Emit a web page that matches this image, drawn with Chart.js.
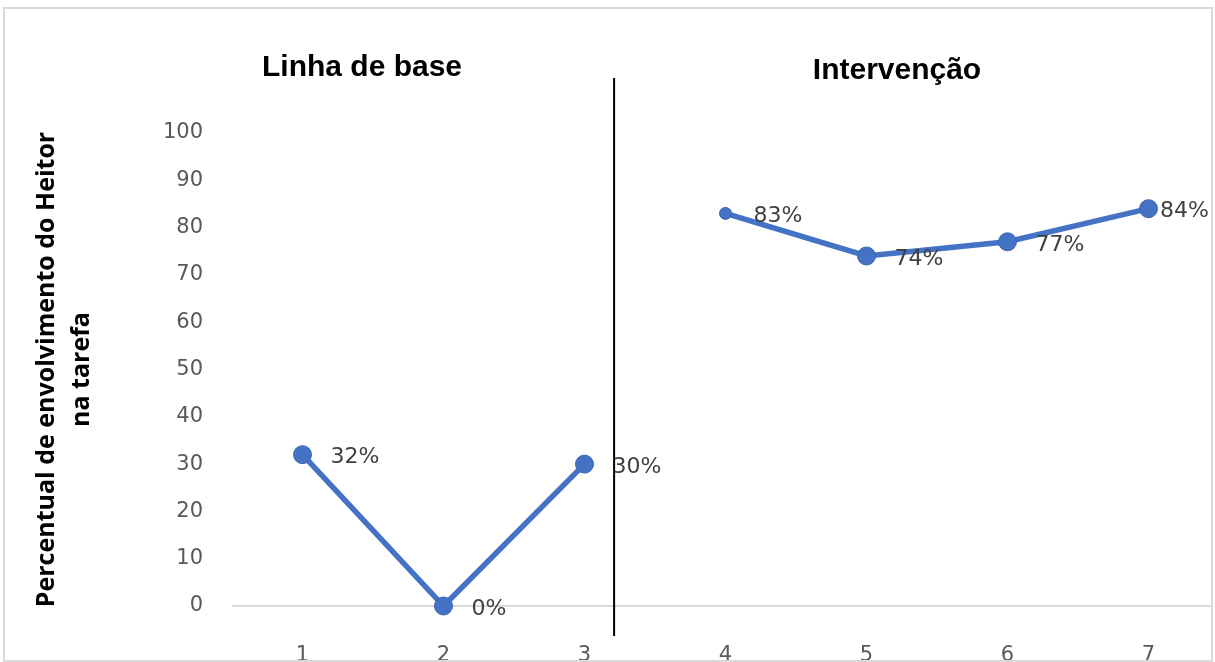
<!DOCTYPE html>
<html>
<head>
<meta charset="utf-8">
<script src="https://cdn.jsdelivr.net/npm/chart.js@4.4.1/dist/chart.umd.min.js"></script>
<style>
  html, body { margin: 0; padding: 0; background: #fff; }
  #wrap { position: relative; width: 1215px; height: 662px; overflow: hidden; background: #fff; }
  #clip { position: absolute; left: 0; top: 0; width: 1211px; height: 662px; overflow: hidden; }
  #line { position: absolute; left: 0; top: 0; }
  #frame { position: absolute; left: 3px; top: 7px; width: 1206px; height: 651px;
           border: 2px solid #d9d9d9; pointer-events: none; }
</style>
</head>
<body>
<div id="wrap">
  <div id="clip">
    <canvas id="line" width="1219" height="680" style="width:1219px;height:680px"></canvas>
  </div>
  <div id="frame"></div>
</div>
<script>
// sessões
const sessions = ["1", "2", "3", "4", "5", "6", "7"];
// percentual de envolvimento por fase
const baseline = [32, 0, 30, null, null, null, null];
const intervention = [null, null, null, 83, 74, 77, 84];
const yTicks = [0, 10, 20, 30, 40, 50, 60, 70, 80, 90, 100];
const phaseTitles = ["Linha de base", "Intervenção"];
const phaseChange = 2.21; // entre a sessão 3 e 4 (índice)

const blue = "#4472C4";

// rótulos de dados "32%" à direita de cada ponto
const labelPlugin = {
  id: "dataLabels",
  afterDatasetsDraw(chart) {
    const ctx = chart.ctx;
    ctx.save();
    ctx.font = "22px 'DejaVu Sans'";
    ctx.fillStyle = "#404040";
    ctx.textAlign = "left";
    ctx.textBaseline = "middle";
    chart.data.datasets.forEach((ds, i) => {
      chart.getDatasetMeta(i).data.forEach((pt, j) => {
        const v = ds.data[j];
        if (v === null) return;
        const txt = v + "%";
        let x = pt.x + 28;
        const w = ctx.measureText(txt).width;
        if (x + w > 1209) x = 1209 - w;
        ctx.fillText(txt, x, pt.y + 3);
      });
    });
    ctx.restore();
  }
};

// linha de mudança de fase e títulos das fases
const phasePlugin = {
  id: "phase",
  afterDraw(chart) {
    const ctx = chart.ctx;
    const xs = chart.scales.x;
    const area = chart.chartArea;
    const step = xs.getPixelForValue(1) - xs.getPixelForValue(0);
    const px = xs.getPixelForValue(2) + (phaseChange - 2) * step;
    ctx.save();
    ctx.strokeStyle = "#000";
    ctx.lineWidth = 2;
    ctx.beginPath();
    ctx.moveTo(px, area.top - 55);
    ctx.lineTo(px, area.bottom + 30);
    ctx.stroke();

    ctx.font = "bold 30px 'Liberation Sans'";
    ctx.fillStyle = "#000";
    ctx.textAlign = "center";
    ctx.textBaseline = "alphabetic";
    ctx.fillText(phaseTitles[0], 362, 76);
    ctx.fillText(phaseTitles[1], 897, 79);
    ctx.restore();
  }
};

new Chart(document.getElementById("line"), {
  type: "line",
  data: {
    labels: sessions,
    datasets: [
      {
        label: phaseTitles[0],
        data: baseline,
        borderColor: blue,
        backgroundColor: blue,
        borderWidth: 5.5,
        pointRadius: 9,
        pointBackgroundColor: blue,
        pointBorderColor: "#3b66b5",
        pointBorderWidth: 1,
        spanGaps: false,
        clip: false
      },
      {
        label: phaseTitles[1],
        data: intervention,
        borderColor: blue,
        backgroundColor: blue,
        borderWidth: 5.5,
        pointRadius: [9, 9, 9, 6, 9, 9, 9],
        pointBackgroundColor: blue,
        pointBorderColor: "#3b66b5",
        pointBorderWidth: 1,
        spanGaps: false,
        clip: false
      }
    ]
  },
  options: {
    responsive: false,
    animation: false,
    layout: { autoPadding: false, padding: { top: 133, left: 0, right: 0, bottom: 0 } },
    plugins: {
      legend: { display: false },
      tooltip: { enabled: false }
    },
    scales: {
      x: {
        offset: true,
        grid: { display: false, drawTicks: false },
        border: { display: false },
        ticks: {
          padding: 37,
          color: "#595959",
          font: { family: "DejaVu Sans", size: 21 }
        },
        afterFit(scale) {
          scale.height = 74;
          scale.paddingLeft = 0;
          scale.paddingRight = 0;
        }
      },
      y: {
        min: 0,
        max: 100,
        afterBuildTicks(scale) { scale.ticks = yTicks.map(v => ({ value: v })); },
        grid: {
          drawTicks: false,
          lineWidth: 2,
          color: c => (c.tick && c.tick.value === 0 ? "#d9d9d9" : "rgba(0,0,0,0)")
        },
        border: { display: false },
        ticks: {
          padding: 29,
          color: "#595959",
          font: { family: "DejaVu Sans", size: 21 }
        },
        title: {
          display: true,
          text: ["Percentual de envolvimento do Heitor", "na tarefa"],
          color: "#000",
          font: { family: "Open Sans", size: 25, weight: "bold", lineHeight: 1.4 },
          padding: { top: 29, bottom: 0 }
        },
        afterFit(scale) { scale.width = 232; }
      }
    }
  },
  plugins: [labelPlugin, phasePlugin]
});
</script>
</body>
</html>
